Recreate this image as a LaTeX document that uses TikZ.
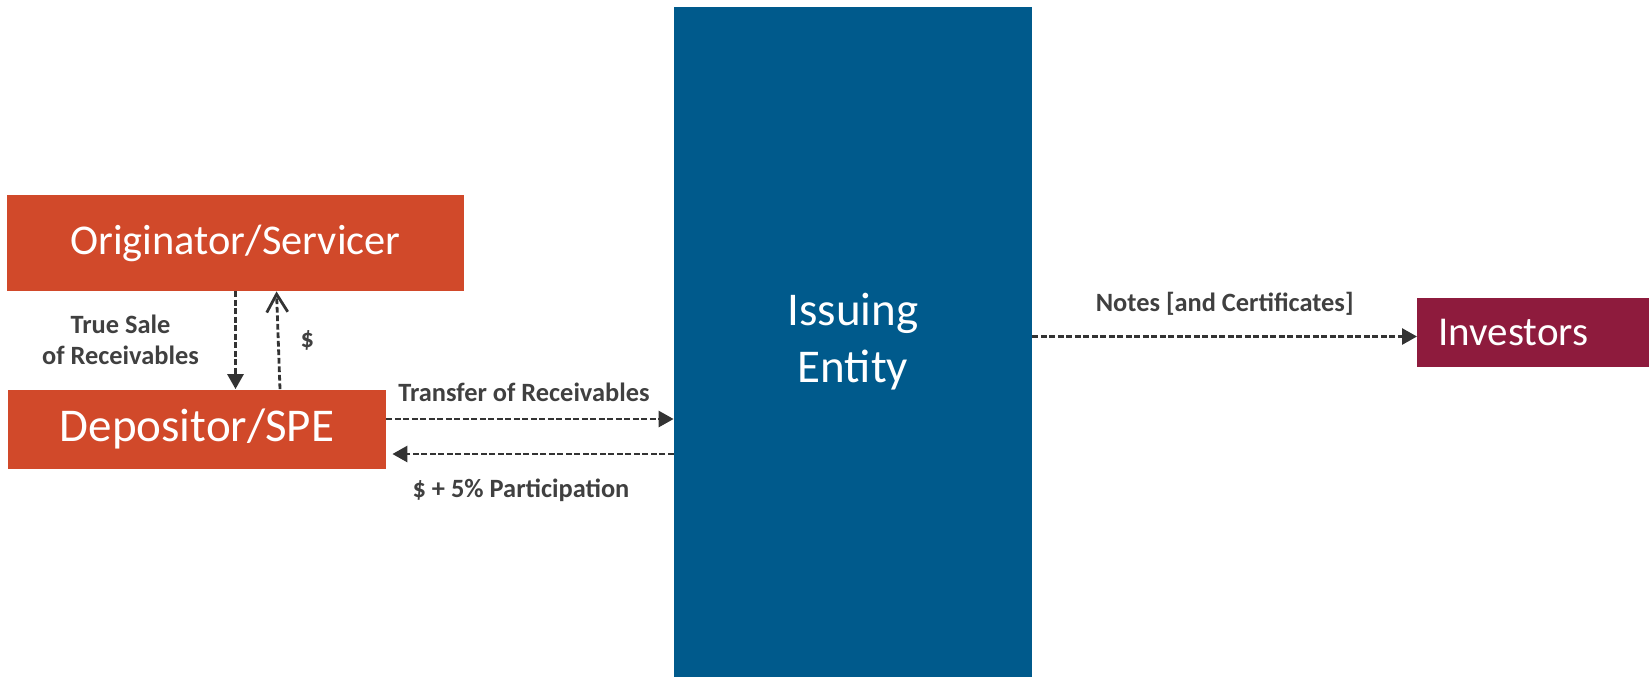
\documentclass[tikz,border=0pt]{standalone}
\usepackage{fontspec}
\setmainfont{Carlito}
\usetikzlibrary{calc, arrows.meta}

\definecolor{partyOrange}{HTML}{D1492A}
\definecolor{issuerBlue}{HTML}{005A8C}
\definecolor{investorRed}{HTML}{8E1B3D}
\definecolor{flowGray}{HTML}{333333}
\definecolor{labelGray}{HTML}{404040}

\begin{document}
\begin{tikzpicture}[x=0.5pt, y=-0.5pt, >={Triangle[length=7.5pt, width=8pt]}]
	% --- Parameters ---
	\def\u{0.5pt}
	\def\pageW{1649}
	\def\pageH{677}
	
	% --- Styles ---
	\tikzset{
		party/.style={fill=partyOrange, text=white, inner sep=0pt},
		issuer/.style={fill=issuerBlue, text=white, inner sep=0pt, align=center,
			font=\fontsize{23.5}{28.5}\selectfont},
		investor/.style={fill=investorRed, text=white, inner ysep=0pt, align=left,
			font=\fontsize{20.5}{24}\selectfont},
		flow/.style={draw=flowGray, line width=1.4pt, dash pattern=on 2.85pt off 1.4pt, ->},
		flowlabel/.style={text=labelGray, align=center,
			font=\bfseries\fontsize{13.2}{15.5}\selectfont}
	}
	
	\useasboundingbox (0,0) rectangle (\pageW,\pageH);
	
	% --- Parties ---
	\node[party, minimum width=457*\u, minimum height=96*\u, font=\fontsize{21.2}{25}\selectfont]
		(orig) at (235.5,243) {Originator/Servicer};
	\node[party, minimum width=378*\u, minimum height=79*\u, font=\fontsize{23.5}{28}\selectfont]
		(dep) at (197,429) {Depositor/SPE};
	\node[issuer, minimum width=358*\u, minimum height=670*\u] (issuer) at (853,342) {Issuing\\Entity};
	\node[investor, anchor=west, text width=190*\u, inner xsep=21*\u, minimum height=69*\u]
		(inv) at (1417,332.5) {Investors};
	
	% --- Flows ---
	\draw[flow] (orig.south) -- (orig.south |- dep.north)
		node[flowlabel, midway, xshift=-57.5pt] {True Sale\\of Receivables};
	\draw[flow, -{Straight Barb[length=9pt, width=10.5pt]}] ($(dep.north)+(83,0)$) -- ($(orig.south)+(41,0)$)
		node[flowlabel, midway, xshift=14.5pt] {\$};
	
	\draw[flow] ($(dep.east)+(0,-10)$) -- ($(dep.east -| issuer.west)+(0,-10)$)
		node[flowlabel, midway, xshift=-3pt, yshift=13.3pt] {Transfer of Receivables};
	\draw[flow] ($(dep.east -| issuer.west)+(0,25)$) -- ($(dep.east)+(6,25)$)
		node[flowlabel, midway, xshift=-6pt, yshift=-18pt] {\$ + 5\% Participation};
	
	\draw[flow] ($(issuer.east |- inv.west)+(0,4)$) -- ($(inv.west)+(0,4)$)
		node[flowlabel, midway, yshift=16.2pt] {Notes [and Certificates]};
\end{tikzpicture}
\end{document}
